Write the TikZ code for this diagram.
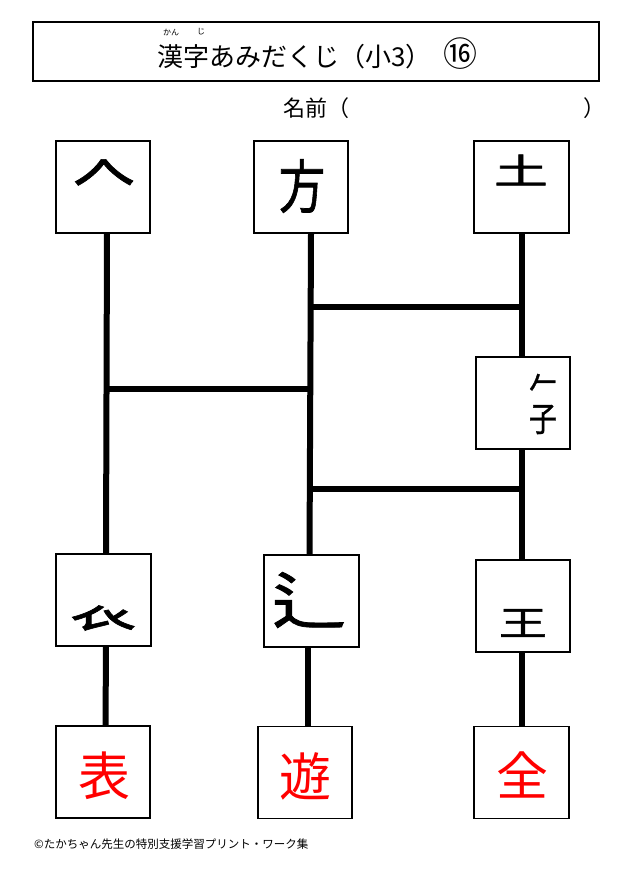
\documentclass[tikz,border=0pt]{standalone}
\usepackage{fontspec}
\newfontfamily\jp{Noto Sans CJK JP}
\newfontfamily\jpf{Noto Sans CJK JP}[FakeBold=1.2]
\begin{document}
\begin{tikzpicture}[x=1pt,y=-1pt,
  box/.style={draw,line width=1.2pt,fill=white,minimum width=94,minimum height=92,inner sep=0pt},
  rail/.style={line width=6pt},
  frag/.style={inner sep=0pt,font=\jpf\fontsize{#1}{#1}\selectfont},
  redk/.style={inner sep=0pt,text=red,font=\jp\fontsize{52}{52}\selectfont}]
\useasboundingbox (0,0) rectangle (628,888);
% title
\node[draw,line width=1.2pt,minimum width=566,minimum height=59,inner sep=0pt] (titlebox) at (316,51.5) {};
\node[inner sep=0pt,anchor=base west,font=\jp\fontsize{26}{26}\selectfont] (title) at (157,67) {漢字あみだくじ（小3）\hspace{12pt}{\fontsize{34}{34}\selectfont ⑯}};
\node[inner sep=0pt,font=\jp\fontsize{8}{8}\selectfont] (ruby1) at (171,32) {かん};
\node[inner sep=0pt,font=\jp\fontsize{8}{8}\selectfont] (ruby2) at (201,32) {じ};
\node[inner sep=0pt,anchor=west,font=\jp\fontsize{22}{22}\selectfont] (name) at (283,108) {名前（};
\node[inner sep=0pt,anchor=west,font=\jp\fontsize{22}{22}\selectfont] (nameend) at (583,108) {）};
% boxes
\node[box] (A) at (103,187) {};
\node[box] (B) at (301,187) {};
\node[box,minimum width=95] (C) at (521.5,187) {};
\node[box] (M) at (523,403) {};
\node[box,minimum width=95] (D) at (103.5,600) {};
\node[box,minimum width=95] (E) at (311.5,601) {};
\node[box] (F) at (523,606) {};
\node[box] (G) at (103,772) {};
\node[box] (H) at (305,772.5) {};
\node[box,minimum width=95] (I) at (521.5,772.5) {};
% rails
\draw[rail] ([xshift=4]A.south) -- ([xshift=2.5]D.north);
\draw[rail] ([xshift=10]B.south) -- ([xshift=-2]E.north);
\draw[rail] ([xshift=0.5]C.south) -- ([xshift=-1]M.north);
\draw[rail] ([xshift=-1]M.south) -- ([xshift=-1]F.north);
\draw[rail] ([xshift=2.5]D.south) -- ([xshift=2.5]G.north);
\draw[rail] ([xshift=-3.5]E.south) -- ([xshift=3]H.north);
\draw[rail] ([xshift=-1]F.south) -- ([xshift=0.5]I.north);
% rungs
\coordinate (r1a) at (311,307);
\coordinate (r1b) at (522,307);
\coordinate (r2a) at (107,389);
\coordinate (r2b) at (311,389);
\coordinate (r3a) at (310,489);
\coordinate (r3b) at (522,489);
\draw[rail] (r1a) -- (r1b);
\draw[rail] (r2a) -- (r2b);
\draw[rail] (r3a) -- (r3b);
% fragments
\node[frag=62] (fA) at (104,179) {𠆢};
\node[frag=58,xscale=0.8] (fB) at (302,186) {方};
\node[frag=54,yscale=0.65] (fC) at (521,170) {土};
\node[inner sep=0pt,align=center,xscale=0.82,font=\jpf\fontsize{34}{35}\selectfont] (fM) at (543,404) {𠂉\\子};
\node[frag=66,yscale=0.75] (fD) at (103,618) {𧘇};
\node[frag=62,xscale=1.2] (fE) at (309,600) {辶};
\node[frag=48,yscale=0.72] (fF) at (523,623) {王};
% answers
\node[redk] (kG) at (104,776) {表};
\node[redk] (kH) at (305,776) {遊};
\node[redk] (kI) at (522,775) {全};
% footer
\node[inner sep=0pt,anchor=west,font=\jp\fontsize{11.5}{11.5}\selectfont] (foot) at (34,844) {©たかちゃん先生の特別支援学習プリント・ワーク集};
\end{tikzpicture}
\end{document}
